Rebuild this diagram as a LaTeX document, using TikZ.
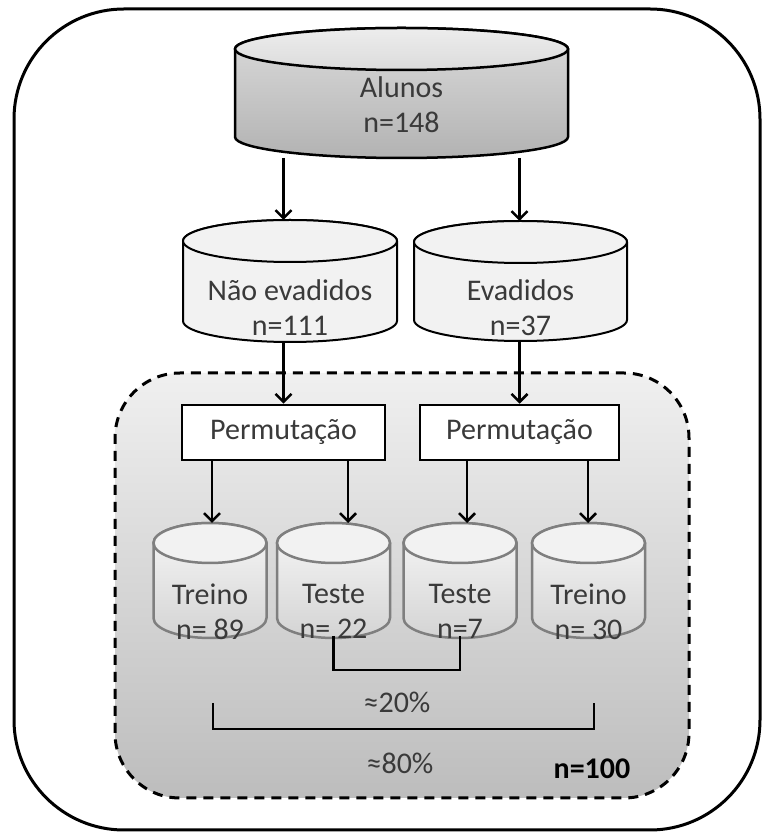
\documentclass[tikz,border=0pt]{standalone}
\usepackage{fontspec}
\setmainfont{Carlito}
\usetikzlibrary{arrows.meta,calc}
\definecolor{txt}{HTML}{3A3A3A}
\definecolor{cylgray}{HTML}{7F7F7F}
% #1 node name, #2 half width, #3 ry, #4 body options, #5 top options
\newcommand{\mycyl}[5]{%
  \path[#4] ([xshift=-#2pt,yshift=-#3pt]#1.north) -- ([xshift=-#2pt,yshift=#3pt]#1.south)
     arc[start angle=180,end angle=360,x radius=#2pt,y radius=#3pt]
     -- ([xshift=#2pt,yshift=-#3pt]#1.north)
     arc[start angle=0,end angle=180,x radius=#2pt,y radius=#3pt] -- cycle;
  \path[#5] ([yshift=-#3pt]#1.north) ellipse[x radius=#2pt,y radius=#3pt];
}
\begin{document}
\begin{tikzpicture}[x=1pt,y=1pt,
  lbl/.style={font=\fontsize{30}{35}\selectfont, text=txt, align=center, inner sep=0pt},
  cylnode/.style={inner sep=0pt, outer sep=0pt, draw=none},
  arr/.style={line width=2.5pt, -{Straight Barb[length=8pt,width=16pt]}},
  permbox/.style={draw, line width=2.5pt, fill=white, minimum height=55pt, inner sep=0pt,
                  font=\fontsize{30}{35}\selectfont, text=txt},
  brk/.style={line width=2.5pt},
  bigline/.style={draw=black, line width=2.5pt},
  midline/.style={draw=black, line width=2pt},
  smline/.style={draw=cylgray, line width=2.5pt}
]
\useasboundingbox (0,0) rectangle (772,836);
% outer frame
\draw[line width=3pt, rounded corners=110pt] (14,6) rectangle (760,827);
% dashed region
\path[shade, top color=black!6, bottom color=black!26, draw=black, line width=3pt,
      dash pattern=on 10pt off 7pt, rounded corners=65pt] (115,38) rectangle (689,463);

% cylinder placeholders
\node[cylnode, minimum width=333pt, minimum height=130pt] (alunos) at (401.5,743) {};
\node[cylnode, minimum width=214pt, minimum height=122pt] (naoev) at (290,555) {};
\node[cylnode, minimum width=213pt, minimum height=120pt] (evad) at (520.5,555) {};
\node[cylnode, minimum width=113pt, minimum height=115pt] (tr1) at (210,255.5) {};
\node[cylnode, minimum width=113pt, minimum height=115pt] (te1) at (333.5,255.5) {};
\node[cylnode, minimum width=113pt, minimum height=115pt] (te2) at (460,255.5) {};
\node[cylnode, minimum width=113pt, minimum height=115pt] (tr2) at (588.5,255.5) {};

\mycyl{alunos}{166.5}{21}{bigline, top color=black!14, bottom color=black!30, shade}{bigline, top color=black!7, bottom color=black!14, shade}
\mycyl{naoev}{107}{21}{midline, fill=black!5}{midline, fill=black!5}
\mycyl{evad}{106.5}{21}{midline, fill=black!5}{midline, fill=black!5}
\foreach \c in {tr1,te1,te2,tr2}{
  \mycyl{\c}{56.5}{20}{smline, shade, top color=black!3, bottom color=black!17}{smline, fill=black!5}
}

% labels
\node[lbl] (alunosT) at (401.5,731) {Alunos\\n=148};
\node[lbl] (naoevT) at (290,528) {Não evadidos\\n=111};
\node[lbl] (evadT) at (520.5,528) {Evadidos\\n=37};
\node[lbl] (tr1T) at (210,224.5) {Treino\\n= 89};
\node[lbl] (te1T) at (333.5,224.5) {Teste\\n= 22};
\node[lbl] (te2T) at (460,224.5) {Teste\\n=7};
\node[lbl] (tr2T) at (588.5,224.5) {Treino\\n= 30};

% permutation boxes
\node[permbox, minimum width=203pt] (perm1) at (283.5,403.5) {Permutação};
\node[permbox, minimum width=199pt] (perm2) at (519.5,403.5) {Permutação};

% arrows
\draw[arr] (alunos.south -| perm1.north) -- (naoev.north -| perm1.north);
\draw[arr] (alunos.south -| perm2.north) -- (evad.north -| perm2.north);
\draw[arr] (naoev.south -| perm1.north) -- (perm1.north);
\draw[arr] (evad.south -| perm2.north) -- (perm2.north);
\coordinate (a1) at ([xshift=2pt]tr1.north);
\coordinate (a2) at ([xshift=14.5pt]te1.north);
\coordinate (a3) at ([xshift=7pt]te2.north);
\coordinate (a4) at ([xshift=-0.5pt]tr2.north);
\draw[arr] (perm1.south -| a1) -- (a1);
\draw[arr] (perm1.south -| a2) -- (a2);
\draw[arr] (perm2.south -| a3) -- (a3);
\draw[arr] (perm2.south -| a4) -- (a4);

% brackets
\draw[brk] ([yshift=2pt]te1.south) -- ++(0,-34) -| ([yshift=2pt]te2.south);
\node[lbl] (p20) at (397,134) {≈20\%};
\coordinate (bl) at (213,133);
\coordinate (br) at (594,133);
\draw[brk] (bl) -- ++(0,-26) -| (br);
\node[lbl] (p80) at (400,73) {≈80\%};
\node[lbl, text=black, font=\fontsize{30}{35}\selectfont\bfseries] (n100) at (592,67.5) {n=100};
\end{tikzpicture}
\end{document}
